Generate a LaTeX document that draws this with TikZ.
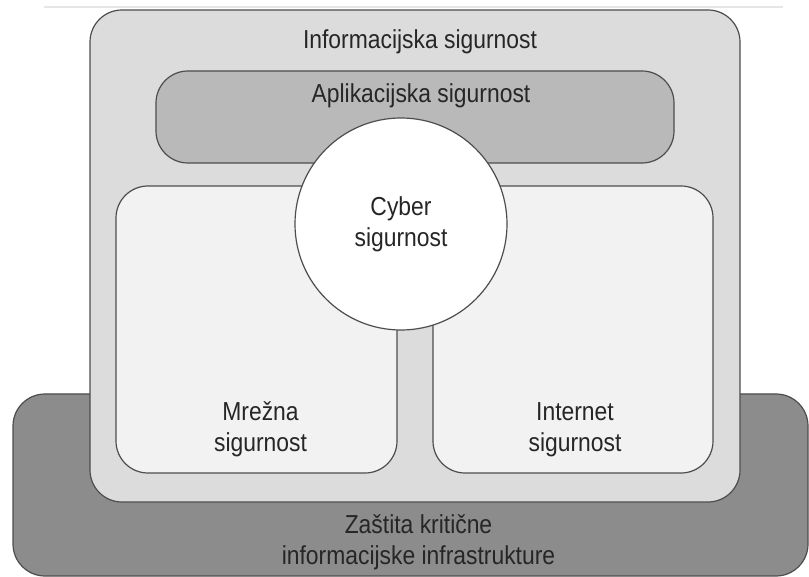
\documentclass[tikz,border=0pt]{standalone}
\usepackage{fontspec}
\setmainfont{Liberation Sans}[FakeStretch=0.88]
\usepackage{tikz}
\usetikzlibrary{positioning}
\definecolor{rubokvir}{HTML}{4D4D4D}
\definecolor{infosiva}{HTML}{DCDCDC}
\definecolor{aplsiva}{HTML}{B9B9B9}
\definecolor{mrezasiva}{HTML}{F2F2F2}
\definecolor{zastitasiva}{HTML}{8C8C8C}
\definecolor{crtasiva}{HTML}{E6E6E6}
\definecolor{tekstsiva}{HTML}{262626}

\begin{document}
\begin{tikzpicture}[x=0.5pt, y=-0.5pt,
  zona/.style={draw=rubokvir, line width=0.6pt, rounded corners=16pt, inner sep=0pt},
  krug/.style={circle, draw=rubokvir, line width=0.6pt, fill=white, minimum size=106pt, inner sep=0pt},
  natpis/.style={font=\fontsize{13pt}{15.5pt}\selectfont, text=tekstsiva, align=center, inner sep=0pt}]
  \useasboundingbox (0,0) rectangle (809,577);
  \draw[crtasiva, line width=0.8pt] (44,7) -- (783,7);

  \node[zona, fill=zastitasiva, minimum width=397.5pt, minimum height=91pt] (zastita) at (410.5,485) {};
  \node[zona, fill=infosiva, minimum width=325pt, minimum height=246pt] (info) at (415,256) {};
  \node[zona, fill=aplsiva, minimum width=259pt, minimum height=46pt] (aplik) at (415,117) {};
  \node[zona, fill=mrezasiva, minimum width=140.5pt, minimum height=143.5pt] (mrezna) at (256.5,329.5) {};
  \node[zona, fill=mrezasiva, minimum width=140pt, minimum height=143.5pt] (internet) at (573,329.5) {};
  \node[krug, natpis] (cyber) at (401,224) {Cyber\\sigurnost};

  \node[natpis, below=10pt of info.north, xshift=2.5pt] (infotekst) {Informacijska sigurnost};
  \node[natpis, below=6.5pt of aplik.north, xshift=3pt] (apliktekst) {Aplikacijska sigurnost};
  \node[natpis, above=8pt of mrezna.south, xshift=2pt] (mreznatekst) {Mrežna\\sigurnost};
  \node[natpis, above=8pt of internet.south, xshift=1pt] (internettekst) {Internet\\sigurnost};
  \node[natpis, above=3pt of zastita.south, xshift=4pt] (zastitatekst) {Zaštita kritične\\informacijske infrastrukture};
\end{tikzpicture}
\end{document}
